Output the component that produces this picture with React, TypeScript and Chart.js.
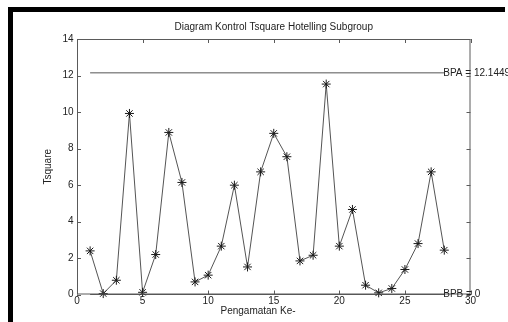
import React, { useEffect, useRef } from "react";
import { Chart, registerables } from "chart.js";

Chart.register(...registerables);

const observationNumbers = [1, 2, 3, 4, 5, 6, 7, 8, 9, 10, 11, 12, 13, 14, 15, 16, 17, 18, 19, 20, 21, 22, 23, 24, 25, 26, 27, 28];
const tsquareValues = [2.39, 0.05, 0.78, 9.92, 0.12, 2.19, 8.88, 6.14, 0.69, 1.06, 2.65, 5.99, 1.51, 6.72, 8.83, 7.55, 1.84, 2.15, 11.53, 2.65, 4.66, 0.51, 0.09, 0.33, 1.37, 2.79, 6.72, 2.43];
const limitRange = [1, 28];
const upperLimit = 12.1449;
const lowerLimit = 0;
const upperLabel = "BPA = 12.1449";
const lowerLabel = "BPB = 0";
const chartTitle = "Diagram Kontrol Tsquare Hotelling Subgroup";
const xTitle = "Pengamatan Ke-";
const yTitle = "Tsquare";
const xTickValues = [0, 5, 10, 15, 20, 25, 30];
const yTickValues = [0, 2, 4, 6, 8, 10, 12, 14];

const FONT = "'Liberation Sans', Arial, sans-serif";

const decorPlugin = {
  id: "decor",
  beforeDraw(chart: any) {
    const ctx = chart.ctx;
    ctx.save();
    ctx.fillStyle = "#fff";
    ctx.fillRect(0, 0, chart.width, chart.height);
    ctx.fillStyle = "#000";
    ctx.fillRect(8, 7, 497, 5);
    ctx.fillRect(8, 7, 5, chart.height - 7);
    ctx.restore();
  },
  afterDatasetsDraw(chart: any) {
    const ctx = chart.ctx;
    const { left, right, top, bottom } = chart.chartArea;
    const xs = chart.scales.x;
    const ys = chart.scales.y;
    ctx.save();
    ctx.strokeStyle = "#5a5a5a";
    ctx.lineWidth = 1;
    ctx.strokeRect(left + 0.5, top + 0.5, right - left - 1, bottom - top - 1);
    const tl = 4;
    ctx.beginPath();
    xTickValues.forEach((v) => {
      const px = Math.round(xs.getPixelForValue(v)) + 0.5;
      ctx.moveTo(px, bottom);
      ctx.lineTo(px, bottom - tl);
      ctx.moveTo(px, top);
      ctx.lineTo(px, top + tl);
    });
    yTickValues.forEach((v) => {
      const py = Math.round(ys.getPixelForValue(v)) + 0.5;
      ctx.moveTo(left, py);
      ctx.lineTo(left + tl, py);
      ctx.moveTo(right, py);
      ctx.lineTo(right - tl, py);
    });
    ctx.stroke();

    ctx.fillStyle = "#222";
    ctx.font = `10px ${FONT}`;
    ctx.textAlign = "left";
    ctx.textBaseline = "middle";
    const lx = xs.getPixelForValue(limitRange[1]) - 1;
    ctx.fillText(upperLabel, lx, ys.getPixelForValue(upperLimit));
    ctx.fillText(lowerLabel, lx, ys.getPixelForValue(lowerLimit));

    ctx.textAlign = "center";
    ctx.fillText(xTitle, 258, 311);
    ctx.fillText(chartTitle, (left + right) / 2, 27);
    ctx.restore();
  },
};

export default function App() {
  const ref = useRef<HTMLCanvasElement>(null);
  useEffect(() => {
    if (!ref.current) return;
    const limitLine = (y: number) => limitRange.map((x) => ({ x, y }));
    const chart = new Chart(ref.current, {
      type: "line",
      data: {
        datasets: [
          {
            label: "Tsquare",
            data: observationNumbers.map((x, i) => ({ x, y: tsquareValues[i] })),
            borderColor: "#555",
            borderWidth: 1,
            pointStyle: "star",
            pointRadius: 4.5,
            pointBorderColor: "#1a1a1a",
            pointBorderWidth: 1,
            pointBackgroundColor: "#1a1a1a",
            tension: 0,
            clip: false as any,
          },
          {
            label: "BPA",
            data: limitLine(upperLimit),
            borderColor: "#555",
            borderWidth: 1,
            pointRadius: 0,
            clip: false as any,
          },
          {
            label: "BPB",
            data: limitLine(lowerLimit),
            borderColor: "#555",
            borderWidth: 1,
            pointRadius: 0,
            clip: false as any,
          },
        ],
      },
      options: {
        responsive: false,
        animation: false,
        layout: { padding: { left: 0, right: 37.5, top: 39, bottom: 0 } },
        plugins: {
          legend: { display: false },
          tooltip: { enabled: false },
          title: { display: false },
        },
        scales: {
          x: {
            type: "linear",
            min: 0,
            max: 30,
            afterFit: (s: any) => {
              s.height = 27.5;
            },
            afterBuildTicks: (s: any) => {
              s.ticks = xTickValues.map((v) => ({ value: v }));
            },
            grid: { display: false, drawTicks: false },
            border: { display: false },
            ticks: {
              color: "#222",
              font: { family: FONT, size: 10 },
              padding: 1,
              maxRotation: 0,
            },
          },
          y: {
            type: "linear",
            min: 0,
            max: 14,
            afterFit: (s: any) => {
              s.width = 77;
            },
            afterBuildTicks: (s: any) => {
              s.ticks = yTickValues.map((v) => ({ value: v }));
            },
            grid: { display: false, drawTicks: false },
            border: { display: false },
            title: {
              display: true,
              text: yTitle,
              color: "#222",
              font: { family: FONT, size: 10 },
              padding: { top: 42.5, bottom: 0 },
            },
            ticks: {
              color: "#222",
              font: { family: FONT, size: 10 },
              padding: 3.5,
            },
          },
        },
      },
      plugins: [decorPlugin],
    });
    return () => chart.destroy();
  }, []);
  return (
    <div style={{ position: "fixed", left: 0, top: 0, width: 508, height: 322, background: "#fff" }}>
      <canvas ref={ref} width={508} height={322} style={{ display: "block" }} />
    </div>
  );
}
